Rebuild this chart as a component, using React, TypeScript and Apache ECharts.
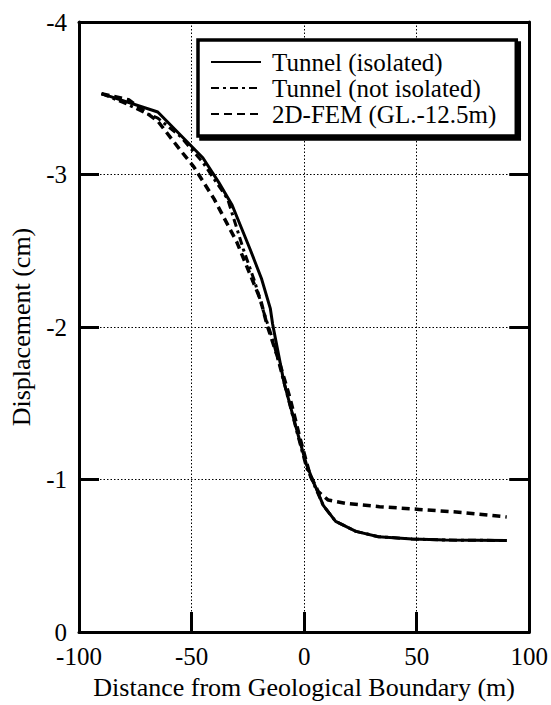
import React, { useEffect, useRef } from "react";
import * as echarts from "echarts";

const seriesNames = ["Tunnel (isolated)", "Tunnel (not isolated)", "2D-FEM (GL.-12.5m)"];

const isolated: [number, number][] = [
  [-90, -3.53], [-65, -3.41], [-45, -3.11], [-38, -2.95], [-32, -2.8], [-24, -2.51],
  [-19, -2.32], [-15, -2.12], [-14, -2.02], [-9, -1.64], [-3, -1.31], [1, -1.1],
  [4, -0.99], [8.5, -0.83], [14, -0.725], [23, -0.66], [33, -0.625], [48, -0.61],
  [63, -0.603], [90, -0.6],
];

const notIsolated: [number, number][] = [
  [-90, -3.53], [-80, -3.47], [-70, -3.4], [-65, -3.37], [-55, -3.25], [-45, -3.08],
  [-34, -2.84], [-27, -2.51], [-22, -2.3], [-18, -2.1], [-14, -1.92], [-9, -1.64],
  [-3, -1.3], [1, -1.08], [4, -0.98], [8.5, -0.83], [14, -0.725], [23, -0.66],
  [33, -0.625], [48, -0.61], [63, -0.603], [90, -0.6],
];

const fem2d: [number, number][] = [
  [-90, -3.53], [-78, -3.49], [-65, -3.35], [-55, -3.16], [-49, -3.05], [-40, -2.84],
  [-30, -2.56], [-19.4, -2.18], [-16.4, -2.01], [-10.6, -1.75], [-6.2, -1.53],
  [-1.8, -1.27], [2.6, -1.03], [6.3, -0.92], [10.7, -0.865], [18.8, -0.843],
  [33.5, -0.822], [51, -0.804], [70, -0.784], [90, -0.754],
];

const xRange = { min: -100, max: 100, interval: 50 };
const yRange = { min: -4, max: 0, interval: 1 };

const FONT = "'Liberation Serif', 'DejaVu Serif', serif";

export default function App() {
  const ref = useRef<HTMLDivElement>(null);
  useEffect(() => {
    if (!ref.current) return;
    const chart = echarts.init(ref.current, undefined, { renderer: "svg" });
    const axisLine = { show: true, onZero: false, lineStyle: { color: "#000", width: 3 } };
    const tick = { show: true, inside: true, length: 20, lineStyle: { color: "#000", width: 3 } };
    const split = { show: true, lineStyle: { color: "#000", width: 1, type: [1.5, 2] as any } };
    chart.setOption({
      animation: false,
      backgroundColor: "#fff",
      textStyle: { fontFamily: FONT, color: "#000" },
      grid: { left: 77, right: 20, top: 22, bottom: 71, containLabel: false },
      legend: {
        data: seriesNames,
        orient: "vertical",
        left: 198,
        top: 40,
        itemWidth: 50,
        itemHeight: 26,
        itemGap: 0,
        padding: [9, 20, 9, 12],
        backgroundColor: "#fff",
        borderColor: "#000",
        borderWidth: 3.5,
        borderRadius: 0,
        shadowColor: "#000",
        shadowBlur: 0,
        shadowOffsetX: 3,
        shadowOffsetY: 3,
        itemStyle: { color: "rgba(0,0,0,0)", borderWidth: 0, opacity: 0 },
        textStyle: { fontFamily: FONT, fontSize: 25, color: "#000", lineHeight: 26, padding: [0, 0, 0, 6] },
      },
      xAxis: [
        {
          type: "value",
          min: xRange.min,
          max: xRange.max,
          interval: xRange.interval,
          name: "Distance from Geological Boundary (m)",
          nameLocation: "middle",
          nameGap: 42,
          nameTextStyle: { fontFamily: FONT, fontSize: 26, color: "#000" },
          axisLine,
          axisTick: tick,
          axisLabel: { fontFamily: FONT, fontSize: 25, color: "#000", margin: 12 },
          splitLine: split,
        },
        {
          type: "value",
          position: "top",
          min: xRange.min,
          max: xRange.max,
          interval: xRange.interval,
          axisLine,
          axisTick: { show: false },
          axisLabel: { show: false },
          splitLine: { show: false },
        },
      ],
      yAxis: [
        {
          type: "value",
          inverse: true,
          min: yRange.min,
          max: yRange.max,
          interval: yRange.interval,
          name: "Displacement (cm)",
          nameLocation: "middle",
          nameGap: 45,
          nameTextStyle: { fontFamily: FONT, fontSize: 26, color: "#000" },
          axisLine,
          axisTick: tick,
          axisLabel: { fontFamily: FONT, fontSize: 25, color: "#000", margin: 12 },
          splitLine: split,
        },
        {
          type: "value",
          position: "right",
          inverse: true,
          min: yRange.min,
          max: yRange.max,
          interval: yRange.interval,
          axisLine,
          axisTick: tick,
          axisLabel: { show: false },
          splitLine: { show: false },
        },
      ],
      series: [
        {
          name: seriesNames[0],
          type: "line",
          data: isolated,
          symbol: "none",
          lineStyle: { color: "#000", width: 3, type: "solid" },
          itemStyle: { color: "#000" },
          z: 3,
        },
        {
          name: seriesNames[1],
          type: "line",
          data: notIsolated,
          symbol: "none",
          lineStyle: { color: "#000", width: 3, type: [8, 4, 3, 4] },
          itemStyle: { color: "#000" },
          z: 3,
        },
        {
          name: seriesNames[2],
          type: "line",
          data: fem2d,
          symbol: "none",
          lineStyle: { color: "#000", width: 3.5, type: [8, 5] },
          itemStyle: { color: "#000" },
          z: 3,
        },
      ],
    });
    return () => chart.dispose();
  }, []);
  return (
    <div
      ref={ref}
      style={{ position: "fixed", left: 0, top: 0, width: 551, height: 705, background: "#fff" }}
    />
  );
}
